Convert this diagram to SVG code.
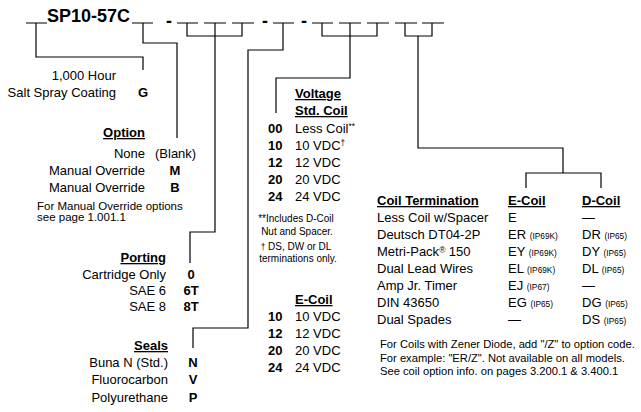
<svg xmlns="http://www.w3.org/2000/svg" width="641" height="412" viewBox="0 0 641 412">
<style>
text{font-family:"Liberation Sans",Arial,sans-serif;font-size:13px;fill:#000}
.b{font-weight:bold}
.h{text-decoration:underline;font-weight:bold}
.r{text-anchor:end}
.m{text-anchor:middle}
.s{font-size:10px}
.f{font-size:11.5px}
.n{font-size:11.2px}
.xs{font-size:8.3px}
.t{font-size:18px;font-weight:bold}
.ln{stroke:#000;stroke-width:1.2;fill:none}
</style>
<rect width="641" height="412" fill="#fff"/>
<g id="model-code">
<text class="t" x="47" y="22">SP10-57C</text>
<text class="t m" x="169" y="27">-</text>
<text class="t m" x="265" y="27">-</text>
<text class="t m" x="304" y="27">-</text>
<path class="ln" d="M26 23H47M132 23H153M177 23H198M204 23H226M232 23H254M273 23H294M312 23H333M339 23H361M367 23H389M395 23H417M422 23H444"/>
</g>
<g id="connectors">
<path class="ln" d="M36 23V57H143V70"/>
<path class="ln" d="M143 23V43H177V138"/>
<path class="ln" d="M187 23V36H242V23"/>
<path class="ln" d="M215 23V232H190V263"/>
<path class="ln" d="M283 23V50H248V328H193V348"/>
<path class="ln" d="M322 23V36H377V23"/>
<path class="ln" d="M350 23V78H276V113"/>
<path class="ln" d="M405 23V36H432V23"/>
<path class="ln" d="M418 36V148H563V173"/>
<path class="ln" d="M526 188V173H601V188"/>
</g>
<g id="coating">
<text class="r" x="116" y="80">1,000 Hour</text>
<text class="r" x="116" y="97">Salt Spray Coating</text>
<text class="b m" x="143" y="97">G</text>
</g>
<g id="option">
<text class="r h" x="145" y="137">Option</text>
<text class="r" x="145" y="158">None</text>
<text x="155" y="158">(Blank)</text>
<text class="r" x="145" y="175">Manual Override</text>
<text class="b m" x="175" y="175">M</text>
<text class="r" x="145" y="192">Manual Override</text>
<text class="b m" x="175" y="192">B</text>
<text class="f" x="37" y="210">For Manual Override options</text>
<text class="f" x="37" y="221">see page 1.001.1</text>
</g>
<g id="porting">
<text class="r h" x="166" y="262">Porting</text>
<text class="r" x="166" y="279">Cartridge Only</text>
<text class="b m" x="191" y="279">0</text>
<text class="r" x="166" y="295">SAE 6</text>
<text class="b m" x="191" y="295">6T</text>
<text class="r" x="166" y="311">SAE 8</text>
<text class="b m" x="191" y="311">8T</text>
</g>
<g id="seals">
<text class="r h" x="168" y="350">Seals</text>
<text class="r" x="168" y="367">Buna N (Std.)</text>
<text class="b m" x="193" y="367">N</text>
<text class="r" x="168" y="384">Fluorocarbon</text>
<text class="b m" x="193" y="384">V</text>
<text class="r" x="168" y="402">Polyurethane</text>
<text class="b m" x="193" y="402">P</text>
</g>
<g id="voltage">
<text class="h" x="295" y="98">Voltage</text>
<text class="h" x="295" y="115">Std. Coil</text>
<text class="b" x="268" y="133">00</text><text x="295" y="133">Less Coil<tspan class="xs" dy="-4">**</tspan></text>
<text class="b" x="268" y="150">10</text><text x="295" y="150">10 VDC<tspan class="xs" dy="-4">†</tspan></text>
<text class="b" x="268" y="167">12</text><text x="295" y="167">12 VDC</text>
<text class="b" x="268" y="184">20</text><text x="295" y="184">20 VDC</text>
<text class="b" x="268" y="201">24</text><text x="295" y="201">24 VDC</text>
<text class="s m" x="296" y="222">**Includes D-Coil</text>
<text class="s m" x="297" y="235">Nut and Spacer.</text>
<text class="s m" x="296" y="250"><tspan class="xs">†</tspan> DS, DW or DL</text>
<text class="s m" x="298" y="262">terminations only.</text>
</g>
<g id="ecoil-voltage">
<text class="h" x="295" y="304">E-Coil</text>
<text class="b" x="268" y="321">10</text><text x="295" y="321">10 VDC</text>
<text class="b" x="268" y="338">12</text><text x="295" y="338">12 VDC</text>
<text class="b" x="268" y="355">20</text><text x="295" y="355">20 VDC</text>
<text class="b" x="268" y="372">24</text><text x="295" y="372">24 VDC</text>
</g>
<g id="coil-termination">
<text class="h" x="377" y="205">Coil Termination</text>
<text class="h" x="508" y="205">E-Coil</text>
<text class="h" x="582" y="205">D-Coil</text>
<text x="377" y="222">Less Coil w/Spacer</text><text x="508" y="222">E</text><text x="582" y="222">—</text>
<text x="377" y="239">Deutsch DT04-2P</text><text x="508" y="239">ER <tspan class="xs">(IP69K)</tspan></text><text x="582" y="239">DR <tspan class="xs">(IP65)</tspan></text>
<text x="377" y="256">Metri-Pack<tspan class="xs" dy="-3">®</tspan><tspan dy="3"> 150</tspan></text><text x="508" y="256">EY <tspan class="xs">(IP69K)</tspan></text><text x="582" y="256">DY <tspan class="xs">(IP65)</tspan></text>
<text x="377" y="273">Dual Lead Wires</text><text x="508" y="273">EL <tspan class="xs">(IP69K)</tspan></text><text x="582" y="273">DL <tspan class="xs">(IP65)</tspan></text>
<text x="377" y="290">Amp Jr. Timer</text><text x="508" y="290">EJ <tspan class="xs">(IP67)</tspan></text><text x="582" y="290">—</text>
<text x="377" y="307">DIN 43650</text><text x="508" y="307">EG <tspan class="xs">(IP65)</tspan></text><text x="582" y="307">DG <tspan class="xs">(IP65)</tspan></text>
<text x="377" y="324">Dual Spades</text><text x="508" y="324">—</text><text x="582" y="324">DS <tspan class="xs">(IP65)</tspan></text>
</g>
<g id="notes">
<text class="n" x="380" y="348">For Coils with Zener Diode, add "/Z" to option code.</text>
<text class="n" x="380" y="362">For example: "ER/Z". Not available on all models.</text>
<text class="n" x="380" y="375">See coil option info. on pages 3.200.1 &amp; 3.400.1</text>
</g>
</svg>
